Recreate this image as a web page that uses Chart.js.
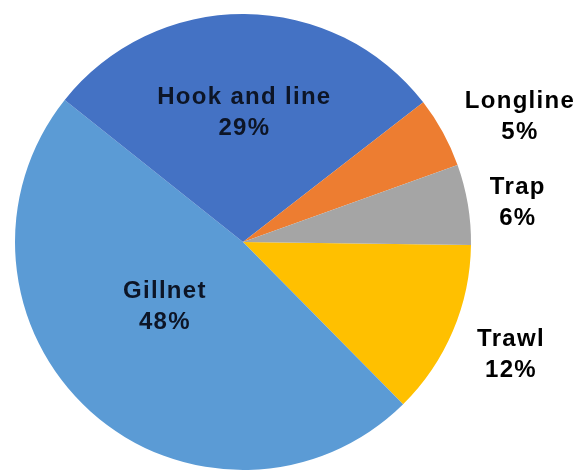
<!DOCTYPE html>
<html>
<head>
<meta charset="utf-8">
<script src="https://cdn.jsdelivr.net/npm/chart.js@4/dist/chart.umd.min.js"></script>
<style>
  html, body { margin: 0; padding: 0; background: #fff; }
  #wrap { width: 581px; height: 471px; }
</style>
</head>
<body>
<div id="wrap"><canvas id="gearChart" width="581" height="471"></canvas></div>
<script>
// slice order follows the picture clockwise, starting just below 3 o'clock
const gearTypes = ['Trawl', 'Gillnet', 'Hook and line', 'Longline', 'Trap'];
const gearShare = [12.4, 48.1, 28.8, 5.0, 5.7];

const sliceColors = ['#FFC000', '#5B9BD5', '#4472C4', '#ED7D31', '#A5A5A5'];

// label placement: [radius factor, angle shift in degrees from slice middle]
const labelPlace = {
    'Trawl': [1.27, -0.8],
    'Gillnet': [0.435, 10],
    'Hook and line': [0.58, 0.2],
    'Longline': [1.34, 3.8],
    'Trap': [1.22, 0.6]
};

const sliceLabels = {
    id: 'sliceLabels',
    afterDatasetsDraw(chart) {
        const ctx = chart.ctx;
        const meta = chart.getDatasetMeta(0);
        const total = gearShare.reduce((a, b) => a + b, 0);
        ctx.save();
        ctx.font = 'bold 24px "Liberation Sans", Arial, sans-serif';
        ctx.letterSpacing = '1.3px';
        ctx.textAlign = 'center';
        ctx.textBaseline = 'middle';
        meta.data.forEach((arc, i) => {
            const p = arc.getProps(['x', 'y', 'startAngle', 'endAngle', 'outerRadius'], true);
            const name = gearTypes[i];
            const place = labelPlace[name];
            const mid = (p.startAngle + p.endAngle) / 2 + place[1] * Math.PI / 180;
            const r = p.outerRadius * place[0];
            const x = p.x + Math.cos(mid) * r;
            const y = p.y + Math.sin(mid) * r;
            const pct = Math.round(gearShare[i] / total * 100) + '%';
            ctx.fillStyle = place[0] < 1 ? '#0d1526' : '#000';
            ctx.fillText(name, x, y - 12);
            ctx.fillText(pct, x, y + 19);
        });
        ctx.restore();
    }
};

new Chart(document.getElementById('gearChart'), {
    type: 'pie',
    data: {
        labels: gearTypes,
        datasets: [{
            data: gearShare,
            backgroundColor: sliceColors,
            borderWidth: 0,
            hoverOffset: 0
        }]
    },
    options: {
        responsive: false,
        animation: false,
        events: [],
        rotation: 90.75,
        layout: { padding: { left: 15, top: 14, right: 110, bottom: 1 } },
        plugins: {
            legend: { display: false },
            tooltip: { enabled: false }
        }
    },
    plugins: [sliceLabels]
});
</script>
</body>
</html>
